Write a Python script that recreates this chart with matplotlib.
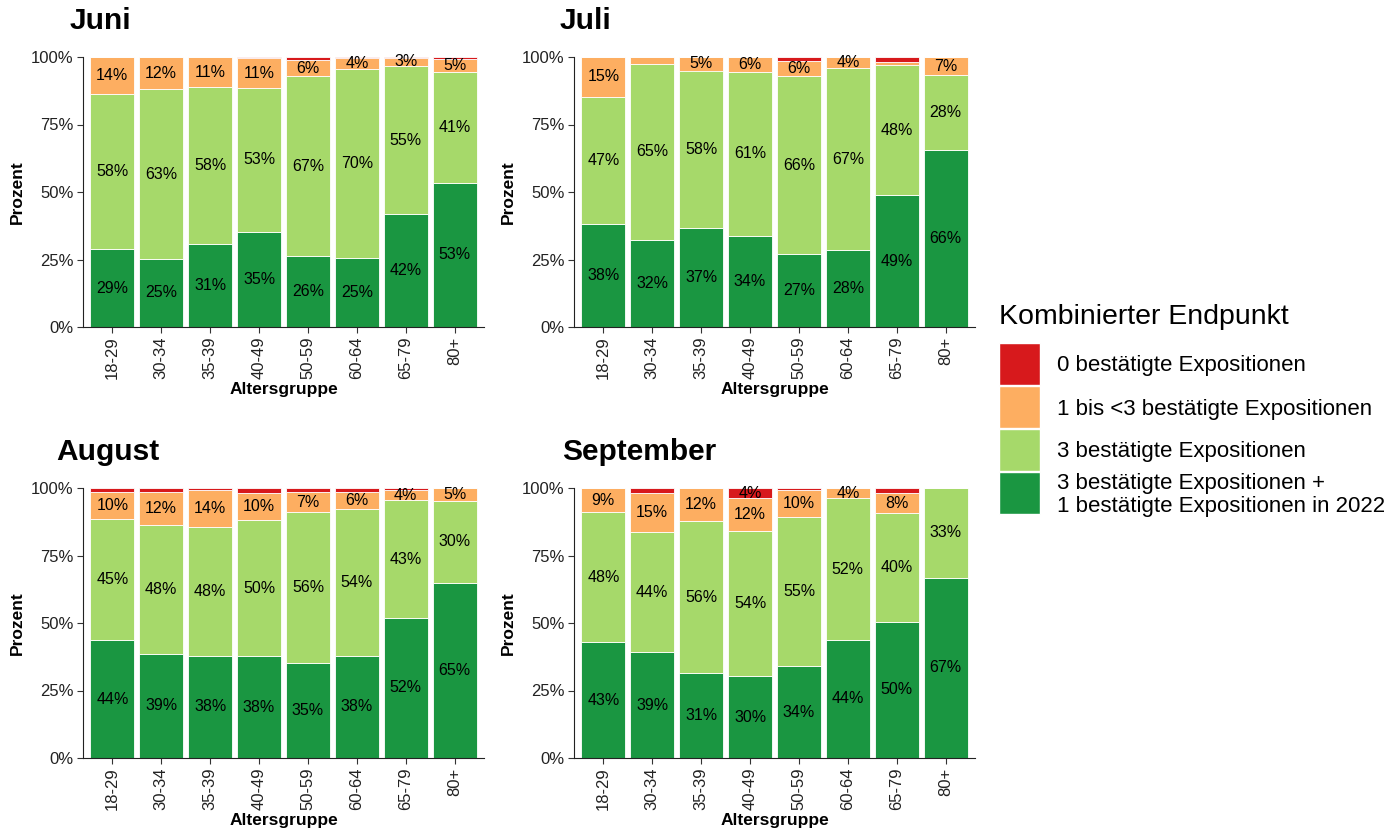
import numpy as np
import matplotlib.pyplot as plt
from matplotlib.patches import Rectangle

plt.rcParams['font.family'] = ['Liberation Sans', 'DejaVu Sans']

gruppen = ['18-29', '30-34', '35-39', '40-49', '50-59', '60-64', '65-79', '80+']
monate = ['Juni', 'Juli', 'August', 'September']

# Anteile in Prozent je Monat: dunkelgrün, hellgrün, orange, rot
gruen = {
    'Juni':      [28.8, 25.2, 30.6, 35.3, 26.2, 25.4, 41.8, 53.4],
    'Juli':      [38.2, 32.4, 36.8, 33.8, 27.2, 28.4, 48.8, 65.6],
    'August':    [43.6, 38.6, 37.8, 37.6, 35.2, 37.8, 52.0, 65.0],
    'September': [42.8, 39.2, 31.4, 30.2, 34.0, 43.8, 50.4, 66.7],
}
hellgruen = {
    'Juni':      [57.6, 62.9, 58.2, 53.2, 66.6, 70.1, 54.9, 40.9],
    'Juli':      [47.0, 65.1, 58.2, 60.6, 65.6, 67.4, 48.2, 27.6],
    'August':    [44.8, 47.6, 47.6, 50.4, 55.8, 54.4, 43.4, 30.2],
    'September': [48.2, 44.4, 56.4, 53.8, 55.4, 52.4, 40.2, 33.3],
}
orange = {
    'Juni':      [13.6, 11.9, 11.2, 11.0, 6.0, 4.0, 3.0, 5.1],
    'Juli':      [14.8, 2.5, 5.0, 5.6, 5.8, 4.2, 1.2, 6.8],
    'August':    [10.2, 12.2, 13.8, 10.0, 7.4, 6.2, 3.8, 4.8],
    'September': [9.0, 14.6, 12.2, 12.2, 9.8, 3.8, 7.6, 0.0],
}
rot = {
    'Juni':      [0.0, 0.0, 0.0, 0.5, 1.2, 0.5, 0.3, 0.6],
    'Juli':      [0.0, 0.0, 0.0, 0.0, 1.4, 0.0, 1.8, 0.0],
    'August':    [1.4, 1.6, 0.8, 2.0, 1.6, 1.6, 0.8, 0.0],
    'September': [0.0, 1.8, 0.0, 3.8, 0.8, 0.0, 1.8, 0.0],
}

farben = ['#1a9641', '#a6d96a', '#fdae61', '#d7191c']
legende = ['0 bestätigte Expositionen',
           '1 bis <3 bestätigte Expositionen',
           '3 bestätigte Expositionen',
           '3 bestätigte Expositionen +\n1 bestätigte Expositionen in 2022']

W, H = 1395, 834
fig = plt.figure(figsize=(W / 100, H / 100), dpi=100)

# Pixelpositionen der Panels (links, oben)
pos = {'Juni': (83, 57), 'Juli': (574, 57), 'August': (83, 488), 'September': (574, 488)}
titel_x = {'Juni': 70, 'Juli': 560, 'August': 56, 'September': 562}
pw, ph = 401, 270

x = np.arange(len(gruppen))
for m in monate:
    l, t = pos[m]
    ax = fig.add_axes([l / W, 1 - (t + ph) / H, pw / W, ph / H])
    reihen = [gruen[m], hellgruen[m], orange[m], rot[m]]
    unten = np.zeros(len(gruppen))
    for werte, farbe in zip(reihen, farben):
        werte = np.array(werte)
        ax.bar(x, werte, bottom=unten, width=0.9, color=farbe,
               edgecolor='white', linewidth=0.6)
        for xi, v, b in zip(x, werte, unten):
            if v >= 3:
                ax.text(xi, b + v / 2, f'{v:.0f}%', ha='center', va='center',
                        fontsize=11.5, color='black')
        unten += werte
    ax.set_xlim(-0.6, 7.6)
    ax.set_ylim(0, 100)
    ax.set_yticks([0, 25, 50, 75, 100])
    ax.set_yticklabels(['0%', '25%', '50%', '75%', '100%'], fontsize=12)
    ax.set_xticks(x)
    ax.set_xticklabels(gruppen, rotation=90, fontsize=12)
    ax.tick_params(length=4, color='#333333', labelcolor='#222222', pad=3)
    for s in ['top', 'right']:
        ax.spines[s].set_visible(False)
    ax.spines['bottom'].set_color('#222222')
    ax.spines['left'].set_color('#222222')
    ax.set_xlabel('Altersgruppe', fontsize=12.5, fontweight='bold', labelpad=2)
    ax.set_ylabel('Prozent', fontsize=12.5, fontweight='bold', labelpad=4)
    fig.text(titel_x[m] / W, 1 - (t - 36) / H, m, fontsize=21.5, fontweight='bold',
             ha='left', va='center')

# Legende
fig.text(999 / W, 1 - 317 / H, 'Kombinierter Endpunkt', fontsize=20.5,
         ha='left', va='center')
key_top = 343
for i, (farbe, text) in enumerate(zip(farben[::-1], legende)):
    y0 = key_top + i * 43
    fig.add_artist(Rectangle((999 / W, 1 - (y0 + 42) / H), 41 / W, 42 / H,
                             transform=fig.transFigure, facecolor=farbe,
                             edgecolor='white', linewidth=1))
    fig.text(1057 / W, 1 - (y0 + 23) / H, text, fontsize=16, ha='left',
             va='center', linespacing=1.1)

fig.savefig('out.png', dpi=100)
